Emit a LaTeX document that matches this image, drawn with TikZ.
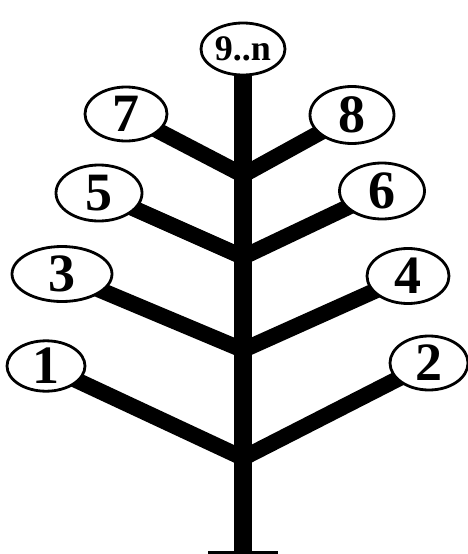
\documentclass[tikz,border=0pt]{standalone}
\usepackage{fontspec}
\setmainfont{Liberation Serif}
\usetikzlibrary{shapes.geometric,backgrounds}
\tikzset{
  leaf/.style={ellipse, draw=black, line width=2.8pt, fill=white, inner sep=0pt,
    font=\fontsize{54}{54}\selectfont\bfseries},
  topleaf/.style={leaf, font=\fontsize{36}{36}\selectfont\bfseries},
  branch/.style={line width=16pt, black},
  trunk/.style={line width=18pt, black},
  baseline/.style={line width=3pt, black}
}
\begin{document}
\begin{tikzpicture}[x=1pt,y=-1pt]
\useasboundingbox (0,0) rectangle (468,554);
% leaves
\node[topleaf, minimum width=84pt, minimum height=52pt] (e9) at (243,49) {9..n};
\node[leaf, minimum width=82pt, minimum height=54pt] (e7) at (126,114) {7};
\node[leaf, minimum width=84pt, minimum height=57pt] (e8) at (352,115) {8};
\node[leaf, minimum width=86pt, minimum height=56pt] (e5) at (99,193) {5};
\node[leaf, minimum width=85pt, minimum height=56pt] (e6) at (382,191) {6};
\node[leaf, minimum width=100pt, minimum height=55pt] (e3) at (62,274) {3};
\node[leaf, minimum width=82pt, minimum height=55pt] (e4) at (408,276) {4};
\node[leaf, minimum width=78pt, minimum height=49pt] (e1) at (46,366) {1};
\node[leaf, minimum width=78pt, minimum height=54pt] (e2) at (429,363) {2};
% junctions on the trunk
\coordinate (j78) at (243,175);
\coordinate (j56) at (243,257);
\coordinate (j34) at (243,350);
\coordinate (j12) at (243,458);
\coordinate (bot) at (243,552);
\coordinate (bl) at (208,552);
\coordinate (br) at (278,552);
\begin{pgfonlayer}{background}
  \draw[trunk] (e9.center) -- (bot);
  \draw[branch] (e7.center) -- (j78);
  \draw[branch] (e8.center) -- (j78);
  \draw[branch] (e5.center) -- (j56);
  \draw[branch] (e6.center) -- (j56);
  \draw[branch] (e3.center) -- (j34);
  \draw[branch] (e4.center) -- (j34);
  \draw[branch] (e1.center) -- (j12);
  \draw[branch] (e2.center) -- (j12);
  \draw[baseline] (bl) -- (br);
\end{pgfonlayer}
\end{tikzpicture}
\end{document}
